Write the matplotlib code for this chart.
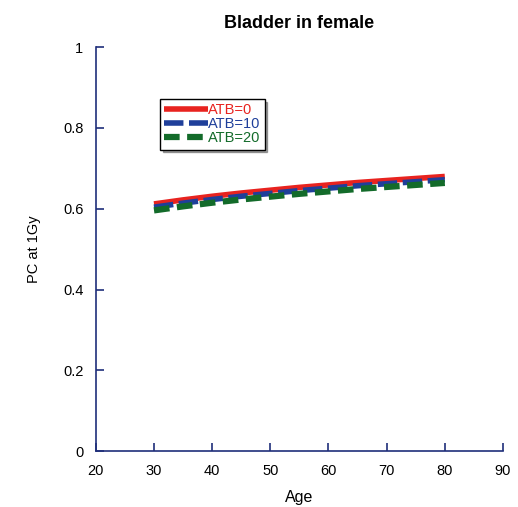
import matplotlib
matplotlib.use('Agg')
import matplotlib.pyplot as plt

plt.rcParams['font.family'] = ['Liberation Sans', 'DejaVu Sans']

# Data
ages = [30, 35, 40, 45, 50, 55, 60, 65, 70, 75, 80]
atb0 = [0.612, 0.622, 0.631, 0.639, 0.646, 0.653, 0.659, 0.665, 0.670, 0.675, 0.680]
atb10 = [0.604, 0.614, 0.623, 0.631, 0.638, 0.645, 0.651, 0.657, 0.662, 0.667, 0.672]
atb20 = [0.596, 0.606, 0.615, 0.623, 0.630, 0.637, 0.643, 0.649, 0.654, 0.659, 0.664]
labels = ['ATB=0', 'ATB=10', 'ATB=20']
colors = ['#e8231f', '#1f3f9a', '#136b2a']

axis_color = '#1f2f7a'

fig = plt.figure(figsize=(5.18, 5.07), dpi=100)
ax = fig.add_axes([0.185, 0.110, 0.786, 0.797])

ax.plot(ages, atb0, color=colors[0], lw=4, solid_capstyle='butt', label=labels[0])
ax.plot(ages, atb10, color=colors[1], lw=4, dashes=(3.5, 1.0), label=labels[1])
ax.plot(ages, atb20, color=colors[2], lw=4.5, dashes=(2.5, 1.2), label=labels[2])

ax.set_xlim(20, 90)
ax.set_ylim(0, 1)
ax.set_xticks(range(20, 91, 10))
ax.set_yticks([0, 0.2, 0.4, 0.6, 0.8, 1])
ax.set_yticklabels(['0', '0.2', '0.4', '0.6', '0.8', '1'])

for side in ['top', 'right']:
    ax.spines[side].set_visible(False)
for side in ['left', 'bottom']:
    ax.spines[side].set_color(axis_color)
    ax.spines[side].set_linewidth(1.2)
ax.tick_params(direction='in', length=6, width=1.2, color=axis_color,
               labelsize=10.5, pad=9)

ax.set_xlabel('Age', fontsize=11.5, labelpad=9)
ax.set_ylabel('PC at 1Gy', fontsize=10.5, labelpad=16)
ax.set_title('Bladder in female', fontsize=13, fontweight='bold', pad=14, x=0.5)

leg = ax.legend(loc='upper left', bbox_to_anchor=(0.157, 0.872), frameon=True,
                fancybox=False, shadow=True, fontsize=10.5, handlelength=3.0,
                handletextpad=0.0, borderpad=0.3, labelspacing=0.0,
                borderaxespad=0)
leg.get_frame().set_edgecolor('black')
leg.get_frame().set_linewidth(1.0)
for text, c in zip(leg.get_texts(), colors):
    text.set_color(c)

fig.savefig('out.png', dpi=100)
